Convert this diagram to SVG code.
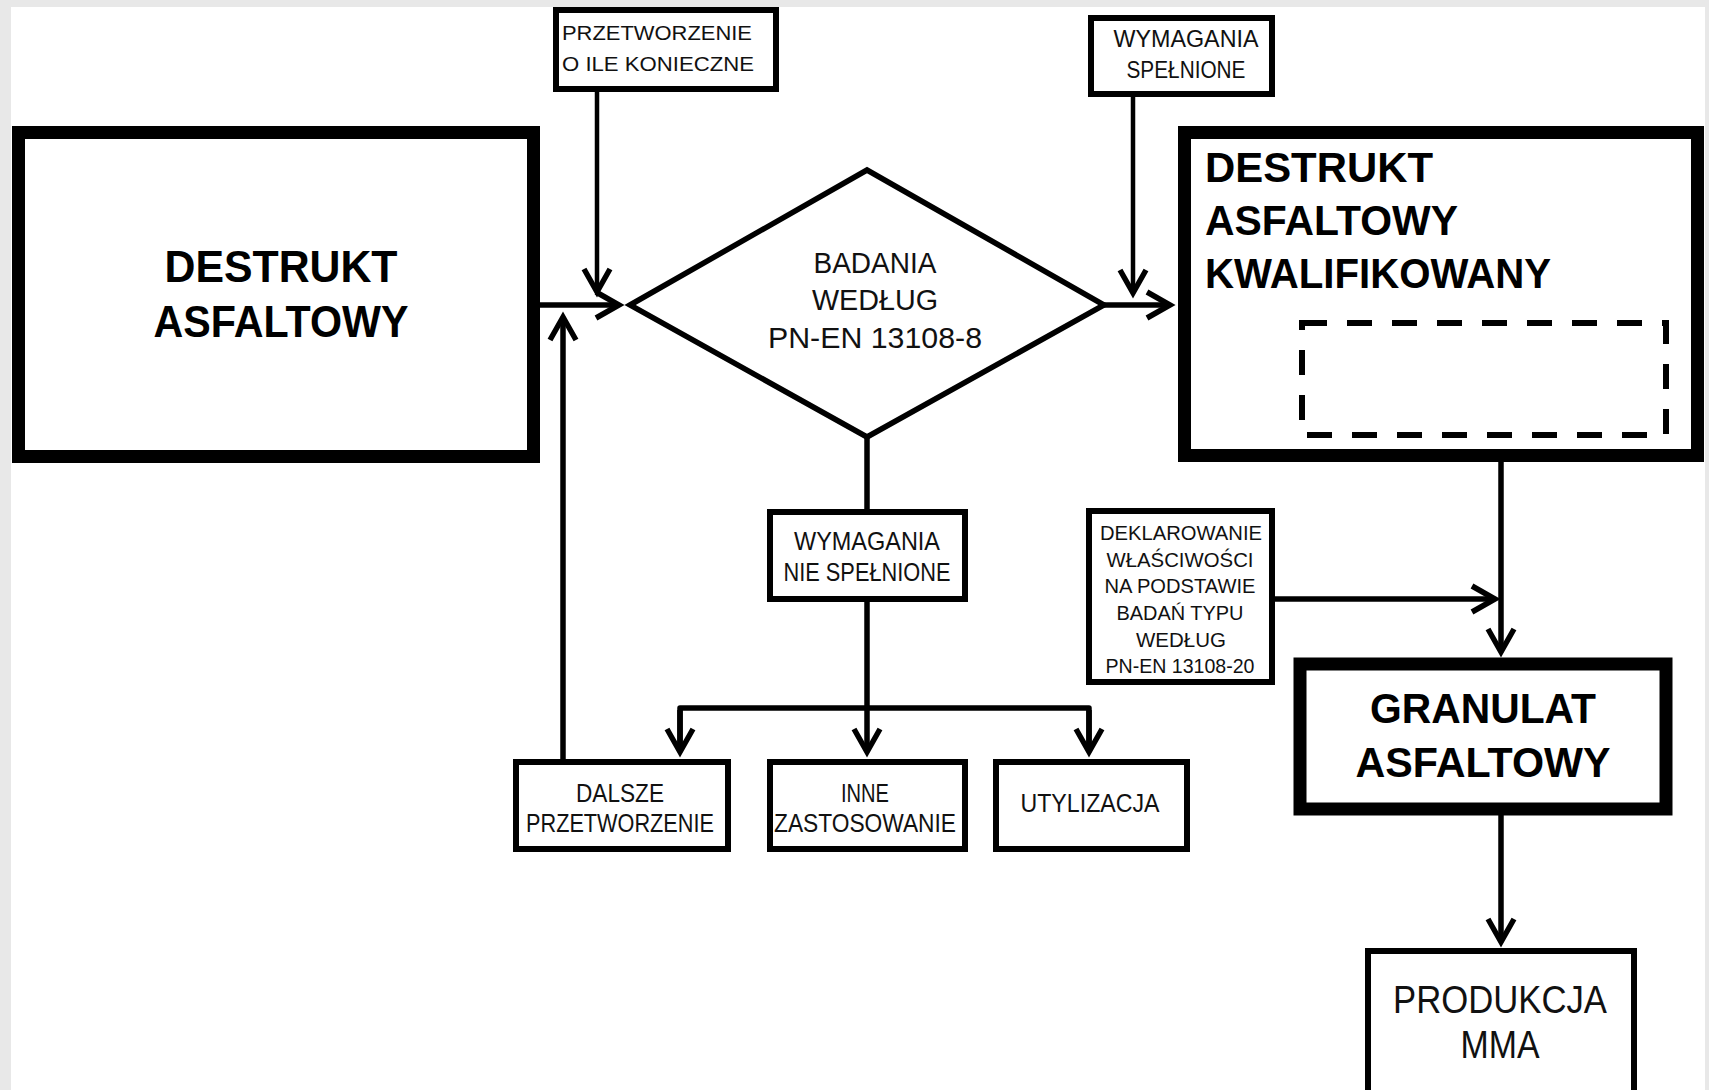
<svg xmlns="http://www.w3.org/2000/svg" width="1709" height="1090" viewBox="0 0 1709 1090">
<style>
  .bold{font-family:"Liberation Sans",Arial,sans-serif;font-weight:bold;fill:#000;}
  .reg{font-family:"Liberation Sans",Arial,sans-serif;fill:#111;}
  .thick{fill:#fff;stroke:#000;stroke-width:13;}
  .thin{fill:#fff;stroke:#000;stroke-width:6;}
  .con{fill:none;stroke:#000;stroke-width:5.5;}
  .con2{fill:none;stroke:#000;stroke-width:4.5;}
</style>
<defs>
  <marker id="arr" markerUnits="userSpaceOnUse" markerWidth="60" markerHeight="60" viewBox="-40 -30 60 60" refX="0" refY="0" orient="auto">
    <path d="M-23,-13 L0,0 L-23,13" fill="none" stroke="#000" stroke-width="5.5" stroke-linejoin="miter"/>
  </marker>
</defs>
<rect x="0" y="0" width="1709" height="1090" fill="#e8e8e8"/>
<rect x="11" y="7" width="1694" height="1090" fill="#fff"/>

<g id="connectors">
  <line class="con2" x1="597" y1="92" x2="597" y2="292" marker-end="url(#arr)"/>
  <line class="con" x1="540" y1="305" x2="619" y2="305" marker-end="url(#arr)"/>
  <line class="con" x1="563" y1="759" x2="563" y2="317" marker-end="url(#arr)"/>
  <line class="con2" x1="1133" y1="97" x2="1133" y2="293" marker-end="url(#arr)"/>
  <line class="con" x1="1104" y1="305" x2="1170" y2="305" marker-end="url(#arr)"/>
  <line class="con" x1="867" y1="437" x2="867" y2="509"/>
  <path class="con" d="M680,752 V708 H1089 V752" stroke-linejoin="round"/>
  <line class="con" x1="680" y1="710" x2="680" y2="752" marker-end="url(#arr)"/>
  <line class="con" x1="867" y1="602" x2="867" y2="752" marker-end="url(#arr)"/>
  <line class="con" x1="1089" y1="710" x2="1089" y2="752" marker-end="url(#arr)"/>
  <line class="con" x1="1501" y1="438" x2="1501" y2="652" marker-end="url(#arr)"/>
  <line class="con" x1="1275" y1="599" x2="1495" y2="599" marker-end="url(#arr)"/>
  <line class="con" x1="1501" y1="815" x2="1501" y2="942" marker-end="url(#arr)"/>
</g>

<g id="destrukt">
  <rect class="thick" x="18.5" y="132.5" width="515" height="324"/>
  <text class="bold" font-size="44" text-anchor="middle" x="281" y="282" textLength="233" lengthAdjust="spacingAndGlyphs">DESTRUKT</text>
  <text class="bold" font-size="44" text-anchor="middle" x="281" y="337" textLength="255" lengthAdjust="spacingAndGlyphs">ASFALTOWY</text>
</g>

<g id="przetworzenie">
  <rect class="thin" x="556" y="10" width="220" height="79" stroke-width="5.5"/>
  <text class="reg" font-size="21" x="562" y="40" textLength="190" lengthAdjust="spacingAndGlyphs">PRZETWORZENIE</text>
  <text class="reg" font-size="21" x="562" y="71" textLength="192" lengthAdjust="spacingAndGlyphs">O ILE KONIECZNE</text>
</g>

<g id="badania">
  <polygon points="630,305 867,170 1104,305 867,437" fill="#fff" stroke="#000" stroke-width="5.5"/>
  <text class="reg" font-size="30" text-anchor="middle" x="875" y="273" textLength="123" lengthAdjust="spacingAndGlyphs">BADANIA</text>
  <text class="reg" font-size="30" text-anchor="middle" x="875" y="310" textLength="126" lengthAdjust="spacingAndGlyphs">WEDŁUG</text>
  <text class="reg" font-size="30" text-anchor="middle" x="875" y="348" textLength="214" lengthAdjust="spacingAndGlyphs">PN-EN 13108-8</text>
</g>

<g id="wym-spelnione">
  <rect class="thin" x="1091" y="18" width="181" height="76"/>
  <text class="reg" font-size="24" text-anchor="middle" x="1186" y="47" textLength="145" lengthAdjust="spacingAndGlyphs">WYMAGANIA</text>
  <text class="reg" font-size="24" text-anchor="middle" x="1186" y="78" textLength="119" lengthAdjust="spacingAndGlyphs">SPEŁNIONE</text>
</g>

<g id="kwalifikowany">
  <rect class="thick" x="1184.5" y="132.5" width="513" height="323" stroke-width="12"/>
  <text class="bold" font-size="42" x="1205" y="182" textLength="228" lengthAdjust="spacingAndGlyphs">DESTRUKT</text>
  <text class="bold" font-size="42" x="1205" y="235" textLength="253" lengthAdjust="spacingAndGlyphs">ASFALTOWY</text>
  <text class="bold" font-size="42" x="1205" y="288" textLength="346" lengthAdjust="spacingAndGlyphs">KWALIFIKOWANY</text>
  <rect x="1302" y="323" width="364" height="112" fill="none" stroke="#000" stroke-width="6" stroke-dasharray="25 20"/>
</g>

<g id="wym-nie-spelnione">
  <rect class="thin" x="770" y="512" width="195" height="87"/>
  <text class="reg" font-size="25" text-anchor="middle" x="867" y="550" textLength="146" lengthAdjust="spacingAndGlyphs">WYMAGANIA</text>
  <text class="reg" font-size="25" text-anchor="middle" x="867" y="581" textLength="167" lengthAdjust="spacingAndGlyphs">NIE SPEŁNIONE</text>
</g>

<g id="deklarowanie">
  <rect class="thin" x="1089" y="511" width="183" height="171"/>
  <text class="reg" font-size="21" text-anchor="middle" x="1181" y="540" textLength="162" lengthAdjust="spacingAndGlyphs">DEKLAROWANIE</text>
  <text class="reg" font-size="21" text-anchor="middle" x="1180" y="567" textLength="147" lengthAdjust="spacingAndGlyphs">WŁAŚCIWOŚCI</text>
  <text class="reg" font-size="21" text-anchor="middle" x="1180" y="593" textLength="151" lengthAdjust="spacingAndGlyphs">NA PODSTAWIE</text>
  <text class="reg" font-size="21" text-anchor="middle" x="1180" y="620" textLength="127" lengthAdjust="spacingAndGlyphs">BADAŃ TYPU</text>
  <text class="reg" font-size="21" text-anchor="middle" x="1181" y="647" textLength="90" lengthAdjust="spacingAndGlyphs">WEDŁUG</text>
  <text class="reg" font-size="21" text-anchor="middle" x="1180" y="673" textLength="149" lengthAdjust="spacingAndGlyphs">PN-EN 13108-20</text>
</g>

<g id="dalsze">
  <rect class="thin" x="516" y="762" width="212" height="87"/>
  <text class="reg" font-size="25" text-anchor="middle" x="620" y="802" textLength="88" lengthAdjust="spacingAndGlyphs">DALSZE</text>
  <text class="reg" font-size="25" text-anchor="middle" x="620" y="832" textLength="188" lengthAdjust="spacingAndGlyphs">PRZETWORZENIE</text>
</g>

<g id="inne">
  <rect class="thin" x="770" y="762" width="195" height="87"/>
  <text class="reg" font-size="25" text-anchor="middle" x="865" y="802" textLength="48" lengthAdjust="spacingAndGlyphs">INNE</text>
  <text class="reg" font-size="25" text-anchor="middle" x="865" y="832" textLength="182" lengthAdjust="spacingAndGlyphs">ZASTOSOWANIE</text>
</g>

<g id="utylizacja">
  <rect class="thin" x="996" y="762" width="191" height="87"/>
  <text class="reg" font-size="25" text-anchor="middle" x="1090" y="812" textLength="139" lengthAdjust="spacingAndGlyphs">UTYLIZACJA</text>
</g>

<g id="granulat">
  <rect class="thick" x="1300" y="664" width="366" height="145" stroke-width="12"/>
  <text class="bold" font-size="43" text-anchor="middle" x="1483" y="723" textLength="226" lengthAdjust="spacingAndGlyphs">GRANULAT</text>
  <text class="bold" font-size="43" text-anchor="middle" x="1483" y="777" textLength="255" lengthAdjust="spacingAndGlyphs">ASFALTOWY</text>
</g>

<g id="produkcja">
  <rect class="thin" x="1368" y="951" width="266" height="160" stroke-width="6.5"/>
  <text class="reg" font-size="39" text-anchor="middle" x="1500" y="1013" textLength="214" lengthAdjust="spacingAndGlyphs">PRODUKCJA</text>
  <text class="reg" font-size="39" text-anchor="middle" x="1500" y="1058" textLength="79" lengthAdjust="spacingAndGlyphs">MMA</text>
</g>
</svg>
